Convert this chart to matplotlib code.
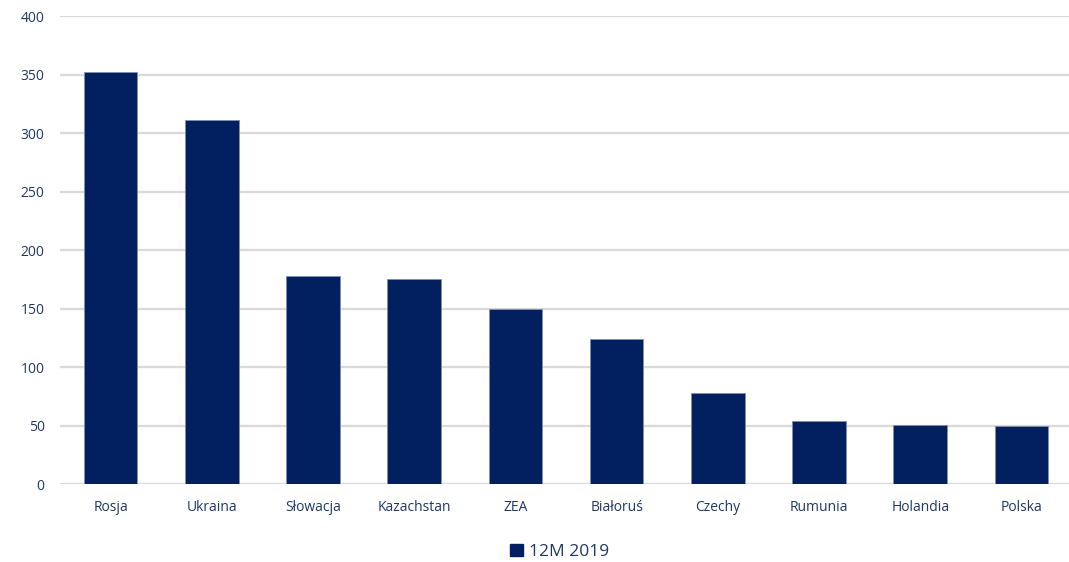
import matplotlib
matplotlib.use("Agg")
import matplotlib.pyplot as plt
from matplotlib.patches import Patch

categories = ["Rosja", "Ukraina", "Słowacja", "Kazachstan", "ZEA",
              "Białoruś", "Czechy", "Rumunia", "Holandia", "Polska"]
values_2019 = [352, 311, 178, 175, 150, 124, 78, 54, 51, 50]
series_name = "12M 2019"
yticks = [0, 50, 100, 150, 200, 250, 300, 350, 400]

plt.rcParams['font.family'] = ['Open Sans', 'DejaVu Sans']
text_col = '#1f3864'
bar_col = '#022060'

W, H = 1069, 562
fig = plt.figure(figsize=(W / 100, H / 100), dpi=100)
left, right = 60, 1072
top, bottom = 16, 484.3
ax = fig.add_axes([left / W, 1 - bottom / H, (right - left) / W, (bottom - top) / H])

x = list(range(len(categories)))
ax.bar(x, values_2019, width=0.53, color=bar_col, edgecolor='#8090b0', linewidth=0.6, zorder=3)
ax.set_xlim(-0.5, len(categories) - 0.5)
ax.set_ylim(0, 400)
ax.set_yticks(yticks)
ax.set_xticks(x)
ax.set_xticklabels(categories)
ax.yaxis.grid(True, color='#d9d9d9', linewidth=1.6, zorder=0)
ax.set_axisbelow(True)
for s in ax.spines.values():
    s.set_visible(False)
ax.tick_params(axis='both', length=0, colors=text_col, labelsize=10)
ax.tick_params(axis='y', pad=11)
ax.tick_params(axis='x', pad=11)

handles = [Patch(facecolor=bar_col, edgecolor=bar_col, label=series_name)]
fig.legend(handles=handles, loc='center', bbox_to_anchor=(560 / W, 1 - 552 / H),
           frameon=False, fontsize=12.5, labelcolor=text_col,
           handlelength=0.7, handleheight=0.7, handletextpad=0.4)

fig.savefig("out.png", dpi=100)
